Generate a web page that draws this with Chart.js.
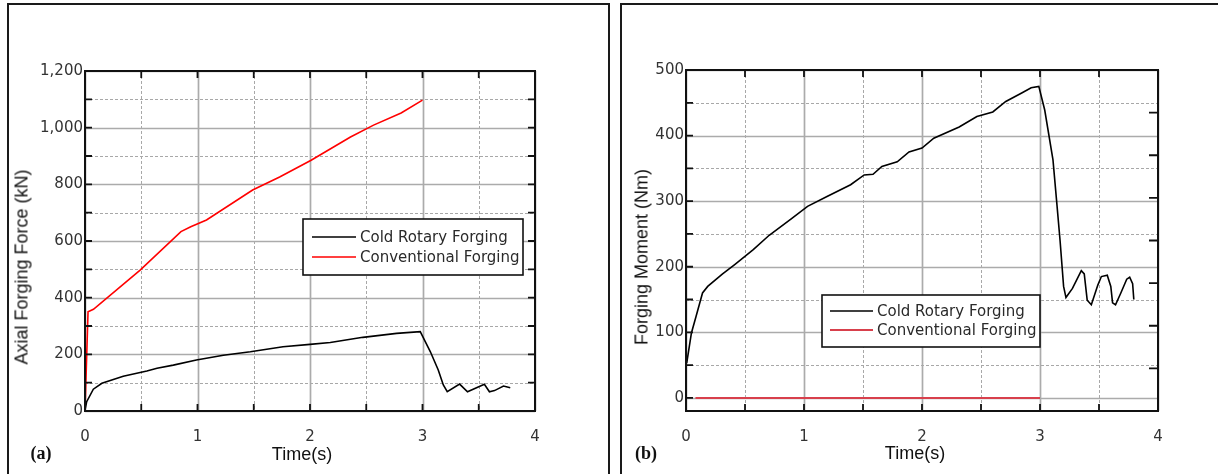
<!DOCTYPE html>
<html>
<head>
<meta charset="utf-8">
<script src="https://cdn.jsdelivr.net/npm/chart.js@4.4.1/dist/chart.umd.min.js"></script>
<style>
  html, body { margin: 0; padding: 0; background: #fff; }
  body { width: 1218px; height: 474px; position: relative; overflow: hidden; font-family: "Liberation Sans", Arial, sans-serif; color: #111; }
  .panel { position: absolute; top: 3px; height: 490px; border: 2px solid #1a1a1a; box-sizing: border-box; }
  #panelA { left: 7px; width: 603px; }
  #panelB { left: 620px; width: 640px; }
  canvas { position: absolute; top: 5px; }
  #chartA { left: 9px; }
  #chartB { left: 622px; }
  .title { position: absolute; white-space: nowrap; font-size: 18px; transform: translate(-50%, -50%); }
  .ytitle { transform: translate(-50%, -50%) rotate(-90deg); }
  .tag { position: absolute; font-family: "Liberation Serif", "DejaVu Serif", serif; font-weight: bold; font-size: 18px; transform: translate(-50%, -50%); }
</style>
</head>
<body>
<div class="panel" id="panelA"></div>
<div class="panel" id="panelB"></div>
<canvas id="chartA" width="597" height="469"></canvas>
<canvas id="chartB" width="596" height="469"></canvas>

<div class="title ytitle" style="left:22px; top:267px;">Axial Forging Force (kN)</div>
<div class="title" style="left:302px; top:454px;">Time(s)</div>
<div class="tag" style="left:41px; top:453px;">(a)</div>

<div class="title ytitle" style="left:642px; top:257px;">Forging Moment (Nm)</div>
<div class="title" style="left:915px; top:453px;">Time(s)</div>
<div class="tag" style="left:646px; top:453px;">(b)</div>

<script>
// (a) axial forging force, kN
const rotaryTimeA = [0, 0.015, 0.074, 0.15, 0.34, 0.55, 0.64, 0.785, 0.99, 1.23, 1.47, 1.76, 2.0, 2.18, 2.47, 2.77, 2.98, 3.07, 3.14, 3.185, 3.22, 3.33, 3.40, 3.55, 3.595, 3.64, 3.72, 3.78];
const rotaryForce = [3, 33, 77, 98, 123, 141, 151, 162, 180, 197, 209, 227, 235, 242, 260, 274, 280, 209, 145, 92, 68, 95, 68, 94, 68, 72, 88, 82];
const convTimeA = [0, 0.027, 0.075, 0.49, 0.853, 0.94, 1.08, 1.49, 1.73, 2.01, 2.36, 2.565, 2.81, 3.0];
const convForce = [0, 350, 359, 497, 633, 650, 674, 780, 826, 885, 967, 1009, 1052, 1097];

// (b) forging moment, Nm
const rotaryTimeB = [0.006, 0.046, 0.085, 0.14, 0.184, 0.31, 0.41, 0.57, 0.705, 0.90, 1.03, 1.195, 1.395, 1.51, 1.585, 1.66, 1.79, 1.89, 2.0, 2.10, 2.315, 2.465, 2.60, 2.71, 2.845, 2.925, 2.99, 3.04, 3.11, 3.14, 3.17, 3.20, 3.22, 3.275, 3.35, 3.375, 3.40, 3.435, 3.49, 3.52, 3.57, 3.60, 3.615, 3.64, 3.685, 3.735, 3.76, 3.785, 3.795];
const rotaryMoment = [53, 99, 124, 160, 170, 189, 203, 226, 248, 274, 292, 307, 325, 340, 341, 353, 360, 375, 381, 396, 413, 429, 436, 452, 465, 473, 475, 439, 363, 302, 240, 170, 153, 167, 194, 189, 149, 142, 172, 185, 187, 170, 145, 142, 160, 181, 184, 174, 150];
const convTimeB = [0.08, 1, 2, 3];
const convMoment = [0, 0, 0, 0];

// tick labels
const timeTicks = [0, 1, 2, 3, 4];
const forceTicks = [0, 200, 400, 600, 800, 1000, 1200];
const momentTicks = [0, 100, 200, 300, 400, 500];

const seriesNames = ['Cold Rotary Forging', 'Conventional Forging'];

Chart.defaults.font.family = '"DejaVu Sans", Verdana, sans-serif';
Chart.defaults.font.size = 15;
Chart.defaults.color = '#333';

function points(xs, ys) {
  return xs.map((x, i) => ({ x: x, y: ys[i] }));
}

function isMajor(v, step) {
  return Math.abs(v / step - Math.round(v / step)) < 1e-6;
}

// grid below the lines, frame and inward ticks on top
const plotFrame = {
  id: 'plotFrame',
  beforeDatasetsDraw(chart, args, o) {
    const { ctx, chartArea: a, scales: { x, y } } = chart;
    ctx.save();
    const line = (x1, y1, x2, y2, major) => {
      ctx.beginPath();
      ctx.strokeStyle = major ? '#ababab' : '#a8a8a8';
      ctx.lineWidth = major ? 1.7 : 1;
      ctx.setLineDash(major ? [] : [3, 2]);
      ctx.moveTo(x1, y1);
      ctx.lineTo(x2, y2);
      ctx.stroke();
    };
    for (let v = x.min; v <= x.max + 1e-9; v += o.xStep) {
      const px = Math.round(x.getPixelForValue(v)) + 0.5;
      line(px, a.top, px, a.bottom, isMajor(v, o.xMajor));
    }
    for (let v = o.yStart; v <= y.max + 1e-9; v += o.yStep) {
      const py = Math.round(y.getPixelForValue(v)) + 0.5;
      line(a.left, py, a.right, py, isMajor(v, o.yMajor));
    }
    ctx.restore();
  },
  afterDatasetsDraw(chart, args, o) {
    const { ctx, chartArea: a, scales: { x, y } } = chart;
    ctx.save();
    ctx.setLineDash([]);
    ctx.strokeStyle = '#111';
    ctx.lineWidth = 1.8;
    ctx.beginPath();
    for (let v = x.min; v <= x.max + 1e-9; v += o.xStep) {
      const px = x.getPixelForValue(v);
      ctx.moveTo(px, a.bottom); ctx.lineTo(px, a.bottom - 7);
      ctx.moveTo(px, a.top); ctx.lineTo(px, a.top + 7);
    }
    for (let v = o.yStart; v <= y.max + 1e-9; v += o.yStep) {
      const py = y.getPixelForValue(v);
      ctx.moveTo(a.left, py); ctx.lineTo(a.left + 7, py);
      if (!o.rightScale) { ctx.moveTo(a.right, py); ctx.lineTo(a.right - 7, py); }
    }
    if (o.rightScale) {
      const r = chart.scales[o.rightScale];
      r.ticks.forEach(t => {
        const py = r.getPixelForValue(t.value);
        ctx.moveTo(a.right, py); ctx.lineTo(a.right - 9, py);
      });
    }
    ctx.stroke();
    ctx.lineWidth = 2;
    ctx.strokeRect(a.left, a.top, a.right - a.left, a.bottom - a.top);
    ctx.restore();
  }
};

// boxed legend placed inside the plot
const boxLegend = {
  id: 'boxLegend',
  afterDraw(chart, args, o) {
    const ctx = chart.ctx;
    const [bx, by, bw, bh] = o.box;
    ctx.save();
    ctx.fillStyle = '#fff';
    ctx.fillRect(bx, by, bw, bh);
    ctx.strokeStyle = '#111';
    ctx.lineWidth = 1.6;
    ctx.strokeRect(bx, by, bw, bh);
    ctx.font = '15px "DejaVu Sans", Verdana, sans-serif';
    ctx.textBaseline = 'middle';
    chart.data.datasets.forEach((ds, i) => {
      const ly = o.rows[i];
      ctx.beginPath();
      ctx.strokeStyle = ds.borderColor;
      ctx.lineWidth = ds.borderWidth;
      ctx.moveTo(o.lineX[0], ly);
      ctx.lineTo(o.lineX[1], ly);
      ctx.stroke();
      ctx.fillStyle = '#2a2a2a';
      ctx.fillText(ds.label, o.textX, ly + 1);
    });
    ctx.restore();
  }
};

function fixWidth(w) { return scale => { scale.width = w; }; }
function fixHeight(h) { return scale => { scale.height = h; }; }
function useTicks(list) { return scale => { scale.ticks = list.map(v => ({ value: v })); }; }

const lineStyle = { showLine: true, pointRadius: 0, fill: false, tension: 0 };
const noGrid = { display: false, drawTicks: false };

new Chart(document.getElementById('chartA'), {
  type: 'scatter',
  data: {
    datasets: [
      Object.assign({ label: seriesNames[0], data: points(rotaryTimeA, rotaryForce), borderColor: '#000', borderWidth: 1.6 }, lineStyle),
      Object.assign({ label: seriesNames[1], data: points(convTimeA, convForce), borderColor: '#ff0000', borderWidth: 1.6 }, lineStyle)
    ]
  },
  options: {
    responsive: false,
    animation: false,
    layout: { padding: { top: 66, right: 71, left: 0, bottom: 0 } },
    scales: {
      x: {
        type: 'linear', min: 0, max: 4,
        afterBuildTicks: useTicks(timeTicks),
        afterFit: fixHeight(63),
        grid: noGrid, border: { display: false },
        ticks: { padding: 17, maxRotation: 0 }
      },
      y: {
        type: 'linear', min: 0, max: 1200,
        afterBuildTicks: useTicks(forceTicks),
        afterFit: fixWidth(76),
        grid: noGrid, border: { display: false },
        ticks: { padding: 2, callback: v => v.toLocaleString('en-US') }
      }
    },
    plugins: {
      legend: { display: false },
      tooltip: { enabled: false },
      plotFrame: { xStep: 0.5, xMajor: 1, yStart: 0, yStep: 100, yMajor: 200 },
      boxLegend: { box: [294, 214, 220, 56], rows: [232, 252], lineX: [303, 347], textX: 351 }
    }
  },
  plugins: [plotFrame, boxLegend]
});

new Chart(document.getElementById('chartB'), {
  type: 'scatter',
  data: {
    datasets: [
      Object.assign({ label: seriesNames[0], data: points(rotaryTimeB, rotaryMoment), borderColor: '#000', borderWidth: 1.6 }, lineStyle),
      Object.assign({ label: seriesNames[1], data: points(convTimeB, convMoment), borderColor: '#d8404c', borderWidth: 2 }, lineStyle)
    ]
  },
  options: {
    responsive: false,
    animation: false,
    layout: { padding: { top: 65, right: 60, left: 0, bottom: 0 } },
    scales: {
      x: {
        type: 'linear', min: 0, max: 4,
        afterBuildTicks: useTicks(timeTicks),
        afterFit: fixHeight(63),
        grid: noGrid, border: { display: false },
        ticks: { padding: 17, maxRotation: 0 }
      },
      y: {
        type: 'linear', min: -20, max: 500,
        afterBuildTicks: useTicks(momentTicks),
        afterFit: fixWidth(64),
        grid: noGrid, border: { display: false },
        ticks: { padding: 2 }
      },
      y2: {
        type: 'linear', position: 'right', display: false,
        min: 0, max: 8, ticks: { stepSize: 1 }
      }
    },
    plugins: {
      legend: { display: false },
      tooltip: { enabled: false },
      plotFrame: { xStep: 0.5, xMajor: 1, yStart: 0, yStep: 50, yMajor: 100, rightScale: 'y2' },
      boxLegend: { box: [200, 290, 218, 52], rows: [306, 325], lineX: [208, 251], textX: 255 }
    }
  },
  plugins: [plotFrame, boxLegend]
});
</script>
</body>
</html>
